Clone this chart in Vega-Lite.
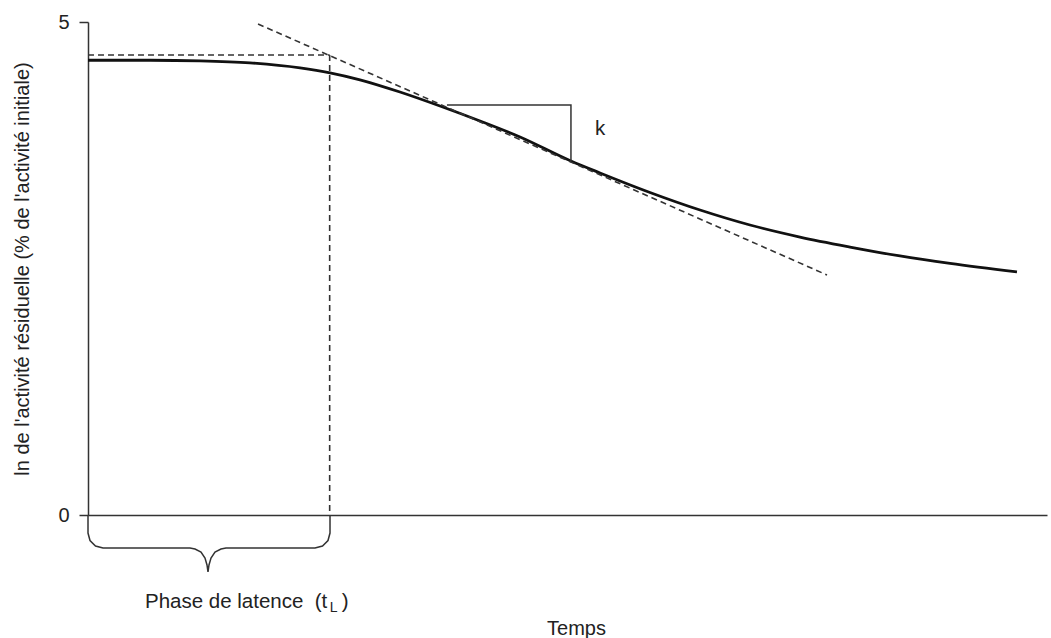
{
  "$schema": "https://vega.github.io/schema/vega-lite/v6.json",
  "width": 959,
  "height": 493,
  "autosize": {"type": "none"},
  "padding": {"left": 88, "top": 22, "right": 4, "bottom": 123},
  "background": "white",
  "config": {
    "view": {"stroke": null},
    "font": "Liberation Sans",
    "axis": {"grid": false, "domainColor": "#333333", "tickColor": "#333333", "labelColor": "#222222", "titleColor": "#222222", "titleFontWeight": "normal", "domainWidth": 1.5, "tickWidth": 1.5}
  },
  "datasets": {
    "curve": [
      {"t": 0, "v": 4.612},
      {"t": 6.47, "v": 4.612},
      {"t": 11.68, "v": 4.606},
      {"t": 16.89, "v": 4.586},
      {"t": 22.11, "v": 4.535},
      {"t": 25.23, "v": 4.485},
      {"t": 28.36, "v": 4.414},
      {"t": 32.53, "v": 4.29},
      {"t": 36.7, "v": 4.148},
      {"t": 40.88, "v": 3.996},
      {"t": 45.05, "v": 3.834},
      {"t": 50.36, "v": 3.59},
      {"t": 53.39, "v": 3.469},
      {"t": 58.6, "v": 3.271},
      {"t": 63.82, "v": 3.093},
      {"t": 69.03, "v": 2.941},
      {"t": 74.24, "v": 2.819},
      {"t": 79.46, "v": 2.718},
      {"t": 84.67, "v": 2.627},
      {"t": 89.89, "v": 2.551},
      {"t": 96.87, "v": 2.465}
    ],
    "guides": [
      {"seg": "h", "i": 0, "t": 0, "v": 4.665},
      {"seg": "h", "i": 1, "t": 25.2, "v": 4.665},
      {"seg": "v", "i": 0, "t": 25.2, "v": 4.665},
      {"seg": "v", "i": 1, "t": 25.2, "v": 0},
      {"seg": "k", "i": 0, "t": 17.73, "v": 4.98},
      {"seg": "k", "i": 1, "t": 77.06, "v": 2.434}
    ],
    "triangle": [
      {"i": 0, "t": 37.43, "v": 4.158},
      {"i": 1, "t": 50.36, "v": 4.158},
      {"i": 2, "t": 50.36, "v": 3.59}
    ],
    "brace": [
      {"i": 0, "t": 0, "v": 0},
      {"i": 1, "t": 0, "v": -0.183},
      {"i": 2, "t": 0.209, "v": -0.259},
      {"i": 3, "t": 0.782, "v": -0.314},
      {"i": 4, "t": 1.564, "v": -0.335},
      {"i": 5, "t": 10.636, "v": -0.335},
      {"i": 6, "t": 11.157, "v": -0.345},
      {"i": 7, "t": 11.783, "v": -0.375},
      {"i": 8, "t": 12.2, "v": -0.436},
      {"i": 9, "t": 12.409, "v": -0.507},
      {"i": 10, "t": 12.513, "v": -0.578},
      {"i": 11, "t": 12.617, "v": -0.507},
      {"i": 12, "t": 12.826, "v": -0.436},
      {"i": 13, "t": 13.243, "v": -0.375},
      {"i": 14, "t": 13.869, "v": -0.345},
      {"i": 15, "t": 14.39, "v": -0.335},
      {"i": 16, "t": 23.671, "v": -0.335},
      {"i": 17, "t": 24.453, "v": -0.314},
      {"i": 18, "t": 25.026, "v": -0.259},
      {"i": 19, "t": 25.235, "v": -0.183},
      {"i": 20, "t": 25.235, "v": 0}
    ],
    "labels": [
      {"label": "k", "t": 52.87, "v": 3.854, "kind": "main"},
      {"label": "Phase de latence \u00a0(t", "t": 5.94, "v": -0.943, "kind": "main"},
      {"label": ")", "t": 26.45, "v": -0.943, "kind": "main"},
      {"label": "L", "t": 25.2, "v": -0.984, "kind": "sub"}
    ]
  },
  "layer": [
    {
      "data": {"name": "curve"},
      "mark": {"type": "line", "color": "#111111", "strokeWidth": 2.8, "interpolate": "monotone"},
      "encoding": {
        "x": {"field": "t", "type": "quantitative", "scale": {"domain": [0, 100], "nice": false, "zero": false},
          "axis": {"title": "Temps", "ticks": false, "labels": false, "titleFontSize": 20, "titleX": 488, "titleY": 119, "titleBaseline": "alphabetic", "titleAlign": "center", "titleAnchor": null}},
        "y": {"field": "v", "type": "quantitative", "scale": {"domain": [0, 5], "nice": false, "zero": false},
          "axis": {"title": "ln de l'activité résiduelle (% de l'activité initiale)", "values": [0, 5], "format": "d", "tickSize": 9, "labelPadding": 10, "labelFontSize": 20, "titleFontSize": 20, "titleX": -60, "titleBaseline": "alphabetic"}}
      }
    },
    {
      "data": {"name": "guides"},
      "mark": {"type": "line", "color": "#333333", "strokeWidth": 1.6, "strokeDash": [6, 4]},
      "encoding": {
        "x": {"field": "t", "type": "quantitative"},
        "y": {"field": "v", "type": "quantitative"},
        "detail": {"field": "seg"},
        "order": {"field": "i"}
      }
    },
    {
      "data": {"name": "triangle"},
      "mark": {"type": "line", "color": "#333333", "strokeWidth": 1.5},
      "encoding": {
        "x": {"field": "t", "type": "quantitative"},
        "y": {"field": "v", "type": "quantitative"},
        "order": {"field": "i"}
      }
    },
    {
      "data": {"name": "brace"},
      "mark": {"type": "line", "color": "#333333", "strokeWidth": 1.5},
      "encoding": {
        "x": {"field": "t", "type": "quantitative"},
        "y": {"field": "v", "type": "quantitative"},
        "order": {"field": "i"}
      }
    },
    {
      "data": {"name": "labels"},
      "transform": [{"filter": "datum.kind == 'main'"}],
      "mark": {"type": "text", "align": "left", "baseline": "alphabetic", "fontSize": 20.5, "color": "#222222"},
      "encoding": {
        "x": {"field": "t", "type": "quantitative"},
        "y": {"field": "v", "type": "quantitative"},
        "text": {"field": "label"}
      }
    },
    {
      "data": {"name": "labels"},
      "transform": [{"filter": "datum.kind == 'sub'"}],
      "mark": {"type": "text", "align": "left", "baseline": "alphabetic", "fontSize": 14, "color": "#222222"},
      "encoding": {
        "x": {"field": "t", "type": "quantitative"},
        "y": {"field": "v", "type": "quantitative"},
        "text": {"field": "label"}
      }
    }
  ]
}
